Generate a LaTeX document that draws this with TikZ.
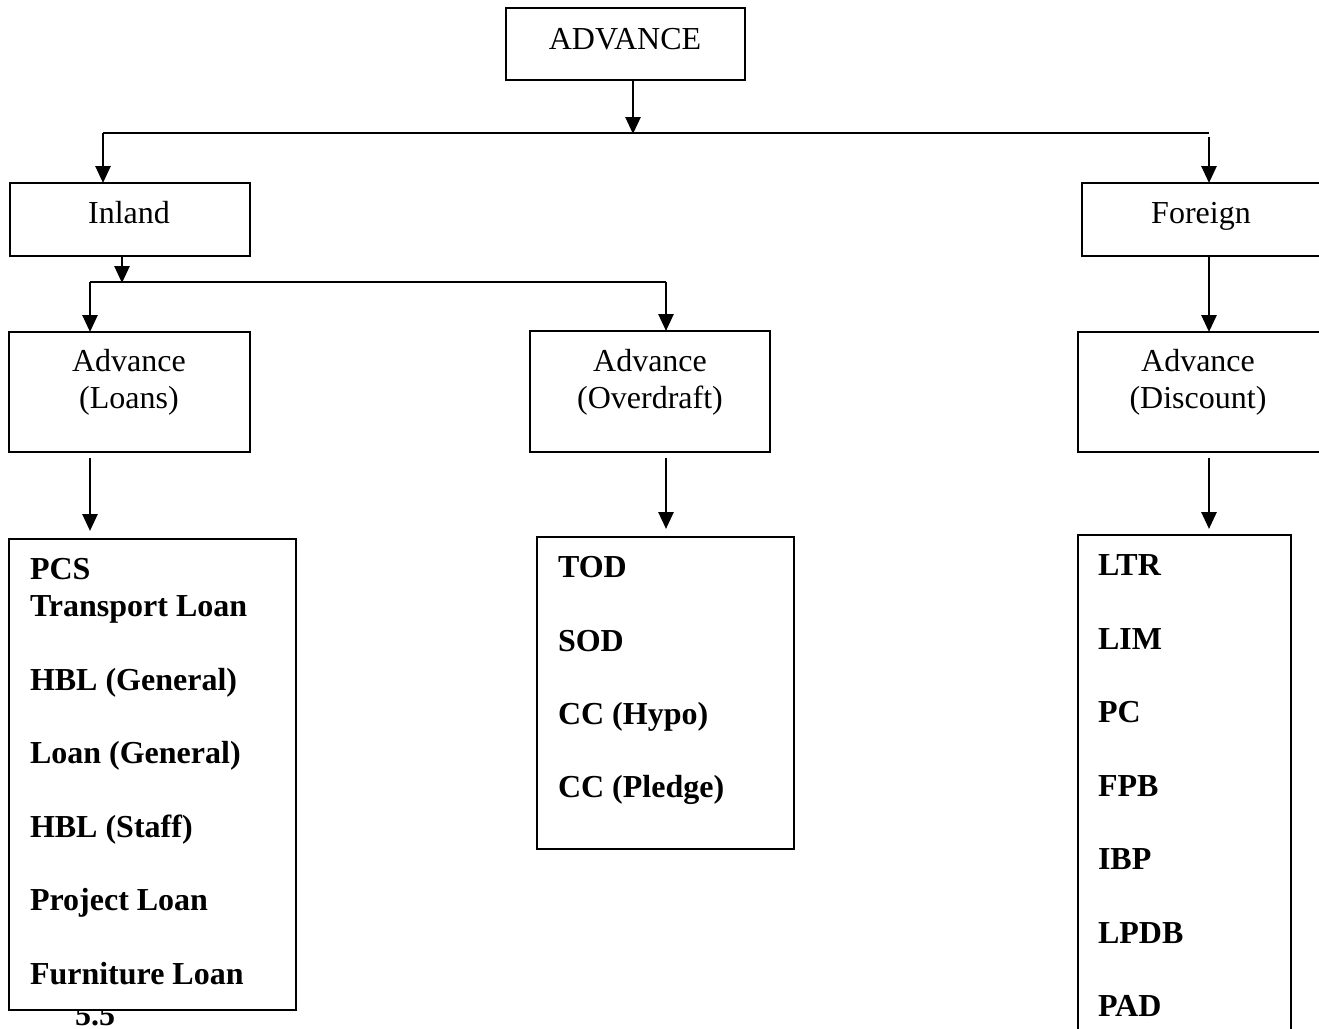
\documentclass[tikz,border=0pt]{standalone}
\usepackage{fontspec}
\setmainfont{Liberation Serif}
\usetikzlibrary{arrows.meta}

\tikzset{
  txt/.style={font=\fontsize{32}{36.8}\selectfont, inner sep=0pt, outer sep=0pt},
  item/.style={txt, font=\fontsize{32}{36.8}\selectfont\bfseries, anchor=base west},
  label/.style={txt, anchor=base},
  box/.style={draw, line width=2.6pt, fill=white, inner sep=0pt, outer sep=0pt,
              minimum width=#1},
  box/.default=240pt,
  link/.style={line width=2.7pt},
  arrowlink/.style={link, -{Triangle[length=17pt,width=15pt]}},
}

\begin{document}
\begin{tikzpicture}[x=1pt,y=-1pt]
  \useasboundingbox (0,0) rectangle (1319,1028);
  \clip (0,0) rectangle (1319,1028);

  % ---- boxes ----
  \node[box=239pt, minimum height=72pt] (adv)     at (625.5,44)  {};
  \node[box, minimum height=73pt]       (inland)  at (130,219.5) {};
  \node[box, minimum height=73pt]       (foreign) at (1202,219.5) {};
  \node[box=241pt, minimum height=120pt] (loans)  at (129.5,392) {};
  \node[box, minimum height=121pt]      (odraft)  at (650,391.5) {};
  \node[box=242pt, minimum height=120pt] (disc)   at (1199,392)  {};

  % page number partly hidden under the loans list
  \node[item] (pagenum) at (75,1025) {5.5};

  \node[box=287pt, minimum height=471pt] (loanlist) at (152.5,774.5) {};
  \node[box=257pt, minimum height=312pt] (odlist)   at (665.5,693)   {};
  \node[box=213pt, minimum height=515pt] (disclist) at (1184.5,792.5) {};

  % ---- box captions ----
  \node[label] (advt)     at (625,49)   {ADVANCE};
  \node[label] (inlandt)  at (129,223)  {Inland};
  \node[label] (foreignt) at (1201,223) {Foreign};
  \node[label] (loanst1)  at (129,371)  {Advance};
  \node[label] (loanst2)  at (129,408)  {(Loans)};
  \node[label] (odt1)     at (650,371)  {Advance};
  \node[label] (odt2)     at (650,408)  {(Overdraft)};
  \node[label] (disct1)   at (1198,371) {Advance};
  \node[label] (disct2)   at (1198,408) {(Discount)};

  % ---- list contents ----
  \foreach \t/\y [count=\i] in {PCS/579, Transport Loan/616, HBL (General)/690,
      Loan (General)/763, HBL (Staff)/837, Project Loan/910, Furniture Loan/984}
    \node[item] (loanitem\i) at (30,\y) {\t};
  \foreach \t/\y [count=\i] in {TOD/577, SOD/651, CC (Hypo)/724, CC (Pledge)/797}
    \node[item] (oditem\i) at (558,\y) {\t};
  \foreach \t/\y [count=\i] in {LTR/575, LIM/649, PC/722, FPB/796, IBP/869,
      LPDB/943, PAD/1016}
    \node[item] (discitem\i) at (1098,\y) {\t};

  % ---- junction points ----
  \coordinate (topbus)   at (633,133);
  \coordinate (busleft)  at (103,133);
  \coordinate (busright) at (1209,133);
  \coordinate (inbus)    at (122,282);
  \coordinate (inleft)   at (90,282);
  \coordinate (inright)  at (666,282);

  % ---- connectors ----
  \draw[arrowlink] (adv.south -| topbus) -- ([yshift=-1pt]topbus);
  \draw[link] (busleft) -- (busright);
  \draw[arrowlink] (busleft) -- (inland.north -| busleft);
  \draw[arrowlink] ([yshift=-4pt]busright) -- (foreign.north -| busright);

  \draw[arrowlink] (inland.south -| inbus) -- ([yshift=-1pt]inbus);
  \draw[link] (inleft) -- (inright);
  \draw[arrowlink] (inleft) -- (loans.north -| inleft);
  \draw[arrowlink] (inright) -- (odraft.north -| inright);
  \draw[arrowlink] (foreign.south -| busright) -- (disc.north -| busright);

  \draw[arrowlink, shorten <=6pt, shorten >=8pt] (loans.south -| inleft) -- (loanlist.north -| inleft);
  \draw[arrowlink, shorten <=6pt, shorten >=8pt] (odraft.south -| inright) -- (odlist.north -| inright);
  \draw[arrowlink, shorten <=6pt, shorten >=6pt] (disc.south -| busright) -- (disclist.north -| busright);
\end{tikzpicture}
\end{document}
